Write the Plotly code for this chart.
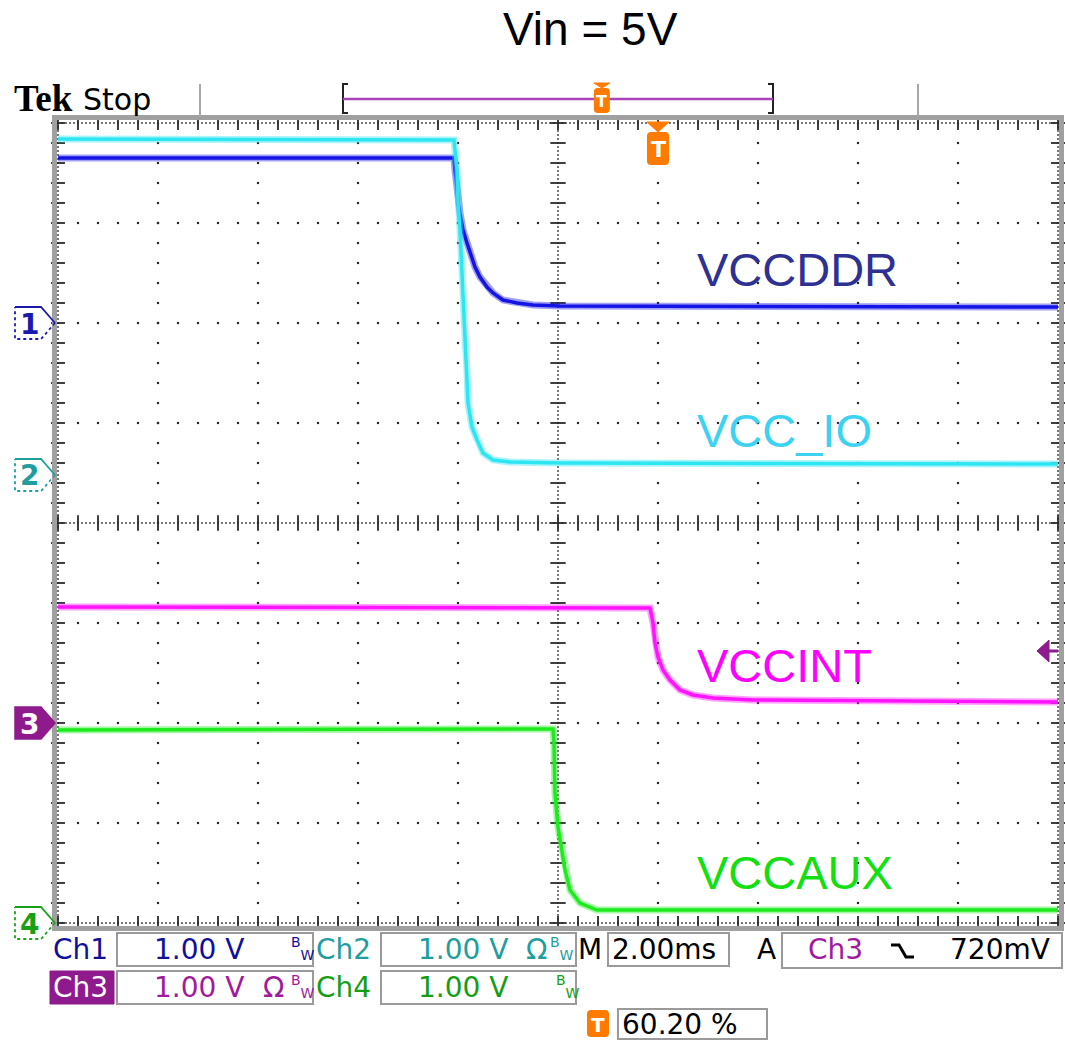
import numpy as np
import plotly.graph_objects as go

W, H = 1065, 1040

# graticule placement on the page (pixels)
GX0, GX1, GY0, GY1 = 58, 1058, 123, 923

# scope display settings
H_DIVS, V_DIVS = 10, 8
MS_PER_DIV = 2.00
T_LEFT = -12.0                     # ms at the left graticule edge, trigger at 0 ms
T_RIGHT = T_LEFT + H_DIVS * MS_PER_DIV
TRIGGER_T = 0.0
TRIGGER_PCT = 60.20
TRIGGER_LEVEL_V = 0.720
TRIGGER_SOURCE = 2                 # index of Ch3

CH_NAMES = ["Ch1", "Ch2", "Ch3", "Ch4"]
CH_LABELS = ["VCCDDR", "VCC_IO", "VCCINT", "VCCAUX"]
CH_VOLTS_PER_DIV = [1.00, 1.00, 1.00, 1.00]
CH_GROUND_DIV = [2.0, 0.48, -2.0, -4.0]

# captured waveforms: time in ms, voltage in V
ch1_t = [-12.0, -4.08, -4.06, -4.02, -4.00, -3.96, -3.90, -3.82, -3.76, -3.66,
         -3.56, -3.42, -3.30, -3.10, -2.82, -2.50, -1.96, 8.0]
ch1_v = [1.65, 1.65, 1.53, 1.36, 1.20, 1.10, 0.93, 0.80, 0.70, 0.56,
         0.46, 0.36, 0.30, 0.23, 0.20, 0.18, 0.17, 0.16]

ch2_t = [-12.0, -4.08, -4.02, -4.00, -3.96, -3.92, -3.90, -3.86, -3.82, -3.80,
         -3.72, -3.62, -3.50, -3.30, -2.96, -1.96, 8.0]
ch2_v = [3.36, 3.35, 3.05, 2.72, 2.45, 2.05, 1.72, 1.38, 1.05, 0.72,
         0.48, 0.35, 0.22, 0.15, 0.13, 0.12, 0.11]

ch3_t = [-12.0, -0.16, -0.10, -0.06, 0.0, 0.10, 0.24, 0.44, 0.70, 1.10, 1.90, 8.0]
ch3_v = [1.16, 1.15, 1.00, 0.80, 0.66, 0.53, 0.43, 0.33, 0.28, 0.25, 0.23, 0.21]

ch4_t = [-12.0, -2.10, -2.08, -2.06, -2.00, -1.92, -1.86, -1.76, -1.56, -1.22, -0.56, 8.0]
ch4_v = [1.93, 1.94, 1.80, 1.30, 0.96, 0.73, 0.53, 0.33, 0.20, 0.13, 0.13, 0.13]

CH_T = [ch1_t, ch2_t, ch3_t, ch4_t]
CH_V = [ch1_v, ch2_v, ch3_v, ch4_v]

TRACE_COLORS = ["#1414E6", "#2EE6F2", "#FF14FF", "#1EEB1E"]
LABEL_COLORS = ["#2E3192", "#3CD2F2", "#FF00FF", "#12E012"]
READOUT_COLORS = ["#10109A", "#1E9E9E", "#A01AA0", "#149E14"]
MARKER_COLORS = ["#1A1AB0", "#1E9E9E", "#8E1A8E", "#18A018"]
ORANGE = "#FF7A00"
FRAME_GRAY = "#A0A0A0"
DOT = "#2A2A2A"


def X(p):
    return p / W


def Y(p):
    return 1 - p / H


def div_to_py(d):
    return (GY0 + GY1) / 2 - d * (GY1 - GY0) / V_DIVS


def t_to_px(t):
    return GX0 + (t - T_LEFT) / (T_RIGHT - T_LEFT) * (GX1 - GX0)


fig = go.Figure()

# ---------------- graticule ----------------
half_v = V_DIVS / 2
t_center = (T_LEFT + T_RIGHT) / 2
fine_v = np.round(np.arange(-half_v, half_v + 1e-9, 0.2), 6)
fine_t = np.round(np.arange(T_LEFT, T_RIGHT + 1e-9, MS_PER_DIV / 5), 6)
dense_v = np.round(np.arange(-half_v, half_v + 1e-9, 0.04), 6)
dense_t = np.round(np.arange(T_LEFT, T_RIGHT + 1e-9, MS_PER_DIV / 25), 6)

gx, gy = [], []
for k in range(1, H_DIVS):
    tk = T_LEFT + k * MS_PER_DIV
    if abs(tk - t_center) < 1e-9:
        continue
    gx += [tk] * len(fine_v)
    gy += list(fine_v)
for j in range(-int(half_v) + 1, int(half_v)):
    if j == 0:
        continue
    gx += list(fine_t)
    gy += [j] * len(fine_t)
fig.add_trace(go.Scatter(x=gx, y=gy, mode="markers", hoverinfo="skip",
                         marker=dict(symbol="square", size=2.2, color=DOT)))

# dense center cross and border lines
dx, dy = [], []
for tv in (t_center, T_LEFT, T_RIGHT):
    dx += [tv] * len(dense_v)
    dy += list(dense_v)
for vv in (0.0, -half_v, half_v):
    dx += list(dense_t)
    dy += [vv] * len(dense_t)
fig.add_trace(go.Scatter(x=dx, y=dy, mode="markers", hoverinfo="skip", cliponaxis=False,
                         marker=dict(symbol="square", size=1.7, color=DOT)))

# minor tick marks on the center cross
fig.add_trace(go.Scatter(x=[t_center] * len(fine_v), y=fine_v, mode="markers",
                         hoverinfo="skip", cliponaxis=False,
                         marker=dict(symbol="line-ew", size=11,
                                     line=dict(width=1.8, color=DOT))))
fig.add_trace(go.Scatter(x=fine_t, y=[0.0] * len(fine_t), mode="markers",
                         hoverinfo="skip", cliponaxis=False,
                         marker=dict(symbol="line-ns", size=11,
                                     line=dict(width=1.8, color=DOT))))
# border tick marks
fig.add_trace(go.Scatter(x=list(fine_t) * 2,
                         y=[half_v] * len(fine_t) + [-half_v] * len(fine_t),
                         mode="markers", hoverinfo="skip", cliponaxis=False,
                         marker=dict(symbol="line-ns", size=10,
                                     line=dict(width=1.8, color=DOT))))
fig.add_trace(go.Scatter(x=[T_LEFT] * len(fine_v) + [T_RIGHT] * len(fine_v),
                         y=list(fine_v) * 2,
                         mode="markers", hoverinfo="skip", cliponaxis=False,
                         marker=dict(symbol="line-ew", size=10,
                                     line=dict(width=1.8, color=DOT))))

# ---------------- waveforms ----------------
for i in range(4):
    ys = [CH_GROUND_DIV[i] + v / CH_VOLTS_PER_DIV[i] for v in CH_V[i]]
    fig.add_trace(go.Scatter(x=CH_T[i], y=ys, mode="lines", hoverinfo="skip",
                             opacity=0.4,
                             line=dict(color=TRACE_COLORS[i], width=7)))
    fig.add_trace(go.Scatter(x=CH_T[i], y=ys, mode="lines", hoverinfo="skip",
                             line=dict(color=TRACE_COLORS[i], width=3.5)))

shapes = []
annotations = []


def ann(text, x, y, size, color, family="DejaVu Sans", xanchor="left", **kw):
    annotations.append(dict(text=text, x=X(x), y=Y(y), xref="paper", yref="paper",
                            showarrow=False, xanchor=xanchor, yanchor="middle",
                            font=dict(family=family, size=size, color=color), **kw))


def path_shape(points, color, width=2, fill=None, close=False, dash="solid"):
    d = "M " + " L ".join(f"{X(a):.5f},{Y(b):.5f}" for a, b in points)
    if close:
        d += " Z"
    s = dict(type="path", path=d, xref="paper", yref="paper",
             line=dict(color=color, width=width, dash=dash))
    if fill:
        s["fillcolor"] = fill
    shapes.append(s)


def rrect(x0, y0, x1, y1, r, fill, line_color=None, width=0):
    pts = [
        f"M {X(x0 + r):.5f},{Y(y0):.5f}",
        f"L {X(x1 - r):.5f},{Y(y0):.5f}",
        f"Q {X(x1):.5f},{Y(y0):.5f} {X(x1):.5f},{Y(y0 + r):.5f}",
        f"L {X(x1):.5f},{Y(y1 - r):.5f}",
        f"Q {X(x1):.5f},{Y(y1):.5f} {X(x1 - r):.5f},{Y(y1):.5f}",
        f"L {X(x0 + r):.5f},{Y(y1):.5f}",
        f"Q {X(x0):.5f},{Y(y1):.5f} {X(x0):.5f},{Y(y1 - r):.5f}",
        f"L {X(x0):.5f},{Y(y0 + r):.5f}",
        f"Q {X(x0):.5f},{Y(y0):.5f} {X(x0 + r):.5f},{Y(y0):.5f} Z",
    ]
    shapes.append(dict(type="path", path=" ".join(pts), xref="paper", yref="paper",
                       fillcolor=fill,
                       line=dict(color=line_color or fill, width=width)))


def box(x0, y0, x1, y1, color="#9A9A9A", fill=None, width=2):
    s = dict(type="rect", xref="paper", yref="paper",
             x0=X(x0), x1=X(x1), y0=Y(y0), y1=Y(y1),
             line=dict(color=color, width=width))
    if fill:
        s["fillcolor"] = fill
    shapes.append(s)


def t_icon(cx, top, bottom, half_w, tri_h, text_size):
    if tri_h:
        path_shape([(cx - half_w, top), (cx + half_w, top), (cx, top + tri_h)],
                   ORANGE, width=1, fill=ORANGE, close=True)
    rrect(cx - half_w, top + tri_h, cx + half_w, bottom, 4, ORANGE)
    ann("<b>T</b>", cx, (top + tri_h + bottom) / 2 + 1, text_size, "white",
        xanchor="center")


# frame and header
box(54.5, 117.5, 1061.5, 928.5, color=FRAME_GRAY, width=5)
path_shape([(200, 84), (200, 117)], "#A8A8A8", width=2)
path_shape([(918, 84), (918, 117)], "#A8A8A8", width=2)
ann("<b>Tek</b>", 12, 98, 37, "black", family="Liberation Serif")
ann("Stop", 81, 99, 30, "black")

# record window bracket with trigger position
path_shape([(348, 84), (343, 84), (343, 113), (348, 113)], "#222222", width=2)
path_shape([(768, 84), (773, 84), (773, 113), (768, 113)], "#222222", width=2)
path_shape([(343, 99), (773, 99)], "#A844B8", width=2.5)
t_icon(343 + (773 - 343) * TRIGGER_PCT / 100, 83, 113, 8, 5, 16)

# trigger time marker on the graticule
t_icon(t_to_px(TRIGGER_T), 122, 165, 11, 10, 22)

# trigger level arrow on the right edge
ly = div_to_py(CH_GROUND_DIV[TRIGGER_SOURCE] + TRIGGER_LEVEL_V / CH_VOLTS_PER_DIV[TRIGGER_SOURCE])
path_shape([(1037, ly), (1049, ly - 11), (1049, ly + 11)], MARKER_COLORS[2],
           width=1, fill=MARKER_COLORS[2], close=True)
path_shape([(1049, ly), (1058, ly)], MARKER_COLORS[2], width=3)

# channel ground markers
for i in range(4):
    gyp = div_to_py(CH_GROUND_DIV[i])
    c = MARKER_COLORS[i]
    pts = [(15, gyp - 16), (41, gyp - 16), (55, gyp), (41, gyp + 16), (15, gyp + 16)]
    if i == 2:
        path_shape(pts, c, width=1.5, fill=c, close=True)
        ann("<b>3</b>", 29, gyp + 1, 28, "white", xanchor="center")
    else:
        path_shape(pts[:3], c, width=1.8)
        path_shape([pts[2], pts[3], pts[4], pts[0]], c, width=1.8, dash="dot")
        ann(f"<b>{i + 1}</b>", 29, gyp + 1, 28, c, xanchor="center")

# waveform names
for i, ypix in enumerate([270, 430, 665, 872]):
    ann(CH_LABELS[i], 695, ypix, 47, LABEL_COLORS[i], family="Liberation Sans")

# title
ann("Vin = 5V", 590, 29, 46, "black", family="Liberation Sans", xanchor="center")

# ---------------- readout area ----------------
R1, R2, R3 = 949, 987, 1024
FS = 28
bw = "<sup>B</sup><sub>W</sub>"

ann(CH_NAMES[0], 51, R1, FS, READOUT_COLORS[0])
box(117, 933, 313, 966)
ann(f"{CH_VOLTS_PER_DIV[0]:.2f} V", 152, R1, FS, READOUT_COLORS[0])
ann(bw, 289, R1 - 1, 20, READOUT_COLORS[0])

ann(CH_NAMES[1], 314, R1, FS, READOUT_COLORS[1])
box(381, 933, 576, 966)
ann(f"{CH_VOLTS_PER_DIV[1]:.2f} V", 416, R1, FS, READOUT_COLORS[1])
ann("Ω", 524, R1, FS, READOUT_COLORS[1])
ann(bw, 548, R1 - 1, 20, READOUT_COLORS[1])

ann("M", 576, R1, FS, "black")
box(608, 933, 729, 966)
ann(f"{MS_PER_DIV:.2f}ms", 610, R1, FS, "black")

ann("A", 755, R1, FS, "black")
box(782, 933, 1062, 968)
ann(CH_NAMES[TRIGGER_SOURCE], 806, R1, FS, READOUT_COLORS[2])
path_shape([(891, 945), (899, 945), (906, 957), (914, 957)], "black", width=3)
ann(f"{TRIGGER_LEVEL_V * 1000:.0f}mV", 948, R1, FS, "black")

box(50, 971, 114, 1004, color=MARKER_COLORS[2], fill=MARKER_COLORS[2], width=1)
ann(CH_NAMES[2], 51, R2, FS, "white")
box(117, 971, 313, 1004)
ann(f"{CH_VOLTS_PER_DIV[2]:.2f} V", 152, R2, FS, READOUT_COLORS[2])
ann("Ω", 261, R2, FS, READOUT_COLORS[2])
ann(bw, 289, R2 - 1, 20, READOUT_COLORS[2])

ann(CH_NAMES[3], 314, R2, FS, READOUT_COLORS[3])
box(381, 971, 576, 1004)
ann(f"{CH_VOLTS_PER_DIV[3]:.2f} V", 416, R2, FS, READOUT_COLORS[3])
ann(bw, 554, R2 - 1, 20, READOUT_COLORS[3])

t_icon(598, 1010, 1037, 11, 0, 20)
box(618, 1009, 767, 1039)
ann(f"{TRIGGER_PCT:.2f} %", 620, R3, FS, "black")

fig.update_layout(
    width=W, height=H,
    margin=dict(l=0, r=0, t=0, b=0),
    paper_bgcolor="white", plot_bgcolor="white",
    showlegend=False,
    xaxis=dict(range=[T_LEFT, T_RIGHT], domain=[X(GX0), X(GX1)],
               showgrid=False, zeroline=False, showticklabels=False, ticks=""),
    yaxis=dict(range=[-half_v, half_v], domain=[Y(GY1), Y(GY0)],
               showgrid=False, zeroline=False, showticklabels=False, ticks=""),
    shapes=shapes,
    annotations=annotations,
)

fig.write_html("out.html")
